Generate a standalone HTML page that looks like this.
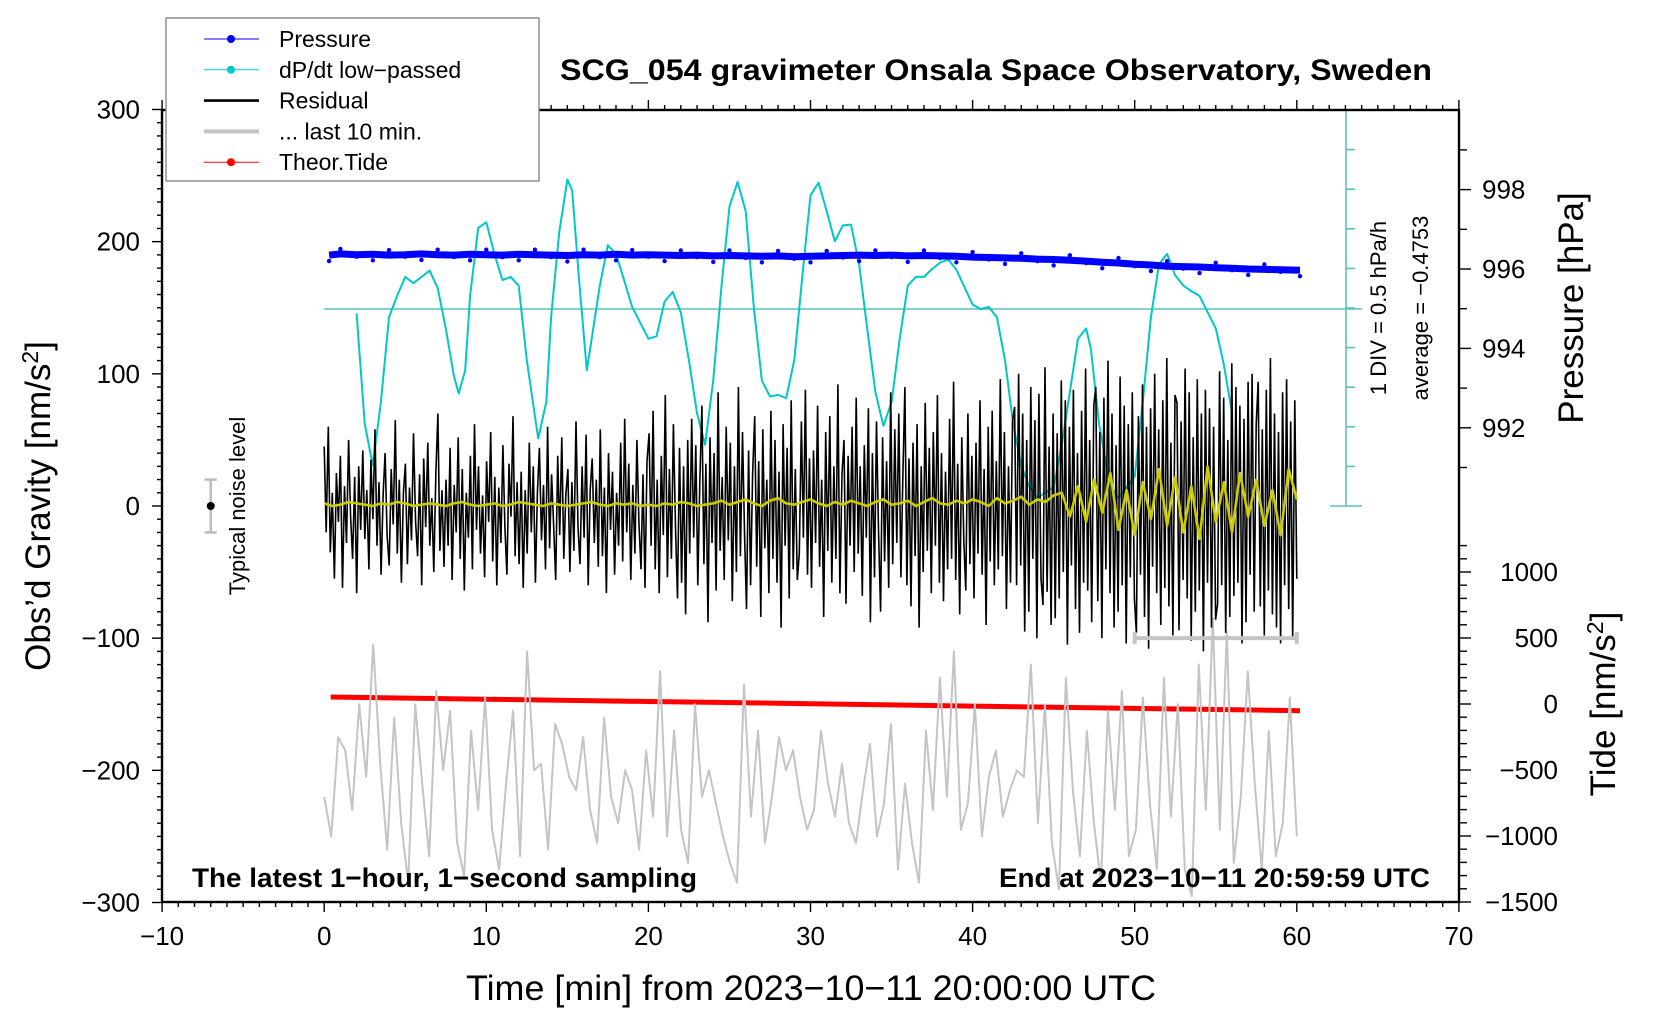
<!DOCTYPE html>
<html><head><meta charset="utf-8"><style>
html,body{margin:0;padding:0;background:#fff;}
svg{display:block;font-family:"Liberation Sans",sans-serif;}
</style></head><body>
<svg id="chart" width="1660" height="1020" viewBox="0 0 1660 1020" xmlns="http://www.w3.org/2000/svg">
<rect x="0" y="0" width="1660" height="1020" fill="#fff"/>
<g id="marks"></g>
<g id="axes"></g>
</svg>
<script>
// ---- data ----
const xTickLabels = [-10,0,10,20,30,40,50,60,70];
const yTickLabels = [300,200,100,0,-100,-200,-300];
const pTickLabels = [998,996,994,992];
const tideTickLabels = [1000,500,0,-500,-1000,-1500];

const pressureT = [0.3,1,2,3,4,5,6,7,8,9,10,11,12,13,14,15,16,17,18,19,20,21,22,23,24,25,26,27,28,29,30,31,32,33,34,35,36,37,38,39,40,41,42,43,44,45,46,47,48,49,50,51,52,53,54,55,56,57,58,59,60.2];
const pressureV = [996.35,996.38,996.36,996.37,996.35,996.36,996.38,996.36,996.35,996.37,996.36,996.35,996.37,996.36,996.35,996.34,996.36,996.35,996.37,996.35,996.36,996.35,996.34,996.35,996.33,996.34,996.33,996.32,996.33,996.31,996.32,996.33,996.34,996.35,996.34,996.35,996.33,996.34,996.33,996.32,996.30,996.29,996.28,996.27,996.25,996.24,996.22,996.20,996.17,996.15,996.12,996.10,996.07,996.06,996.05,996.03,996.02,996.00,995.99,995.98,995.97];

const dpdtT = [2,2.5,3,3.5,4,4.5,5,5.5,6,6.5,7,7.5,8,8.3,8.7,9,9.5,10,10.5,11,11.5,12,12.5,13.2,13.7,14,14.5,15,15.3,15.7,16.2,16.5,17,17.5,18,18.5,19,20,20.5,21,21.5,22,22.5,23,23.5,24,24.5,25,25.5,26,26.5,27,27.5,28,28.5,29,29.5,30,30.5,31,31.5,32,32.5,33,33.5,34,34.5,35,35.5,36,36.5,37,37.5,38,38.5,39,40,40.5,41,41.5,42,42.5,43,43.5,44,45,45.5,46,46.5,47,47.3,47.8,48.5,49,50,50.5,51,51.5,52,52.5,53,53.5,54,55,55.5,56];
const dpdtV = [-0.53,-1.92,-2.45,-1.65,-0.58,-0.31,-0.07,-0.15,-0.07,0.01,-0.21,-0.72,-1.32,-1.54,-1.25,-0.31,0.55,0.62,0.22,-0.11,-0.07,-0.18,-1.12,-2.11,-1.65,-0.58,0.49,1.16,1.02,-0.05,-1.25,-0.85,-0.18,0.33,0.22,-0.11,-0.45,-0.85,-0.82,-0.38,-0.26,-0.52,-1.12,-1.79,-2.19,-1.38,-0.21,0.82,1.13,0.76,-0.45,-1.38,-1.58,-1.56,-1.60,-1.12,-0.05,0.96,1.12,0.76,0.38,0.58,0.59,0.09,-0.72,-1.52,-1.95,-1.65,-0.85,-0.18,-0.07,-0.07,0.03,0.11,0.15,0.02,-0.42,-0.475,-0.45,-0.58,-1.12,-1.92,-2.45,-2.72,-2.86,-2.72,-2.19,-1.52,-0.85,-0.72,-0.98,-1.92,-2.72,-2.86,-2.59,-1.65,-0.58,0.09,0.22,-0.05,-0.18,-0.25,-0.31,-0.72,-1.18,-1.79];

const resid = [
45,-20,60,-35,10,-55,25,-12,38,-62,15,-28,50,-8,-40,22,-66,30,-18,42,
-25,12,-48,35,-10,58,-30,18,-52,8,40,-22,-45,28,-14,65,-36,20,-58,10,
32,-44,14,-26,55,-12,-38,24,-60,36,-16,48,-30,6,-50,26,70,-34,12,-46,
20,-30,44,-56,16,-20,52,-40,28,-64,10,-24,38,-48,62,-18,30,-36,8,-54,
34,-12,56,-42,22,-60,14,-28,46,-16,-52,32,-8,68,-38,18,-44,26,-62,12,
-36,48,-20,30,-58,10,44,-26,16,-48,60,-32,24,-14,-56,38,-22,52,-40,8,
28,-50,18,-34,64,-16,-44,30,-24,54,-60,12,36,-28,20,-46,58,-38,14,-66,
40,-18,26,-52,10,-30,48,-42,66,-20,32,-56,16,-36,50,-12,-48,24,-62,34,
55,-30,72,-48,20,-66,38,-22,84,-54,28,-40,62,-16,-70,44,-58,30,-82,50,
-36,66,-24,46,-60,18,76,-44,32,-88,52,-28,40,-64,86,-34,22,-56,60,-26,
48,-72,30,-50,90,-38,56,-20,-78,42,-60,24,68,-46,34,-84,58,-32,20,-66,
72,-40,50,-58,26,-92,62,-30,44,-70,80,-48,28,-56,-36,64,-24,88,-52,36,
-62,42,-28,76,-46,20,-84,56,-34,68,-58,30,-40,92,-66,24,50,-74,38,-30,
60,-50,82,-36,30,-68,46,-24,74,-88,40,-54,64,-18,-80,52,-42,34,-62,86,
-44,58,-28,70,-54,24,90,-60,36,-76,48,-38,62,-92,30,-50,78,-34,44,-66,
56,-30,84,-58,40,-72,26,-48,66,-40,94,-56,32,-82,52,-26,-64,70,-44,38,
-70,48,-36,80,-52,28,-90,60,-42,72,-60,34,-48,96,-38,56,-78,30,-58,64,
75,-60,100,-45,70,-95,50,-80,90,-40,65,-100,85,-55,-75,105,-65,45,-90,70,
-85,55,-70,95,-50,80,-105,60,-45,88,-78,40,-96,72,-58,104,-64,50,-88,76,
90,-72,56,-100,82,-48,110,-66,70,-92,46,-80,98,-60,76,-104,62,-54,86,-70,
-96,68,-52,92,-84,60,-108,74,-46,100,-66,58,-90,80,-62,112,-76,48,-98,84,
78,-94,64,-56,104,-70,86,-102,52,-80,96,-64,70,-110,88,-58,74,-92,60,-86,
-74,102,-60,82,-96,50,-84,108,-68,90,-58,76,-104,66,-88,94,-52,100,-80,62,
94,-76,58,-98,88,-64,112,-82,70,-92,56,-104,86,-60,96,-78,64,-100,80,-55];

const yellowV = [
2,0,1,3,2,1,0,2,1,3,2,0,1,2,1,0,2,3,1,0,
1,2,0,1,3,2,1,0,2,1,0,1,2,3,1,0,2,1,2,0,
1,0,2,1,3,2,0,1,2,4,1,3,5,2,0,4,6,2,1,3,
5,2,0,3,1,4,2,0,3,5,1,2,4,0,3,6,2,1,4,2,
5,3,0,6,2,4,7,1,5,3,8,
10,-8,15,-12,20,-5,25,-18,12,-22,18,-10,28,-15,22,-20,15,-25,30,-12,18,-20,25,-8,20,-15,12,-22,28,5];

const grayV = [
-30,-60,15,5,-40,40,-15,85,-5,-70,30,-50,-95,40,-20,-75,50,-10,35,-65,
-90,20,-40,45,-55,-85,-20,35,-75,80,-10,-5,-70,25,10,-15,-25,15,-40,-65,
30,-30,-50,-10,-25,-70,5,-45,65,-60,20,-55,-80,40,-30,-10,-35,-60,-80,-95,
55,-45,20,-65,-30,15,-10,5,-30,-55,-40,20,-20,-45,-5,-50,-65,-25,10,-60,
-35,25,-85,-20,-65,-95,20,-40,60,-30,80,-55,-35,40,-60,-15,5,-45,-25,-10,
-15,70,-50,40,-65,-100,60,-25,-75,20,-50,-95,35,-40,50,-75,-55,45,-35,-85,
60,-45,40,-85,-105,70,-40,105,-55,95,-80,-30,65,-20,-85,20,-75,-50,45,-60];
const grayOffset = -190;

const tideT = [0.4,10,20,30,40,50,60.2];
const tideV = [53,36,19,2,-16,-33,-51];

const noiseX = -7, noiseMid = 0, noiseHalf = 20;
const dpdtAvg = -0.4753, dpdtDiv = 0.5;

// ---- axis functions ----
const X0=162.1, PXMIN=16.21;
const xPx = t => X0 + (t+10)*PXMIN;
const yL = v => 506 - v*1.3217;
const yP = p => 269 - (p-996)*39.7;
const yT = v => 704 - v*0.132;
const yC = v => 309 - (v-dpdtAvg)/dpdtDiv*39.6;

const NS='http://www.w3.org/2000/svg';
const marks=document.getElementById('marks');
const axes=document.getElementById('axes');
function mk(tag,attrs,parent){const e=document.createElementNS(NS,tag);for(const k in attrs)e.setAttribute(k,attrs[k]);(parent||marks).appendChild(e);return e;}
function pts(xs,ys){return xs.map((x,i)=>x.toFixed(1)+','+ys[i].toFixed(1)).join(' ');}

const defs=mk('defs',{});
const cp=mk('clipPath',{id:'plotclip'},defs);
mk('rect',{x:162,y:110,width:1297,height:830},cp);

let e;
e=mk('line',{x1:xPx(0),y1:yC(dpdtAvg),x2:1362,y2:yC(dpdtAvg),stroke:'#5fbfbf','stroke-width':1.6});


e=mk('g',{stroke:'#5fbfbf','stroke-width':1.6});


mk('line',{x1:1346,y1:110,x2:1346,y2:506},e);
mk('line',{x1:1330,y1:110,x2:1362,y2:110},e);
mk('line',{x1:1330,y1:506,x2:1362,y2:506},e);
for(let k=1;k<10;k++){mk('line',{x1:1346,y1:110+k*39.6,x2:1355,y2:110+k*39.6},e);}

e=mk('polyline',{points:pts(tideT.map(xPx),tideV.map(yT)),fill:'none',stroke:'#ff0000','stroke-width':5});



const grayX=grayV.map((v,i)=>xPx(i*60/(grayV.length-1)));
e=mk('polyline',{points:pts(grayX,grayV.map(v=>yL(v+grayOffset))),fill:'none',stroke:'#c4c4c4','stroke-width':2,'stroke-linejoin':'round','clip-path':'url(#plotclip)'});



e=mk('polyline',{points:pts(dpdtT.map(xPx),dpdtV.map(yC)),fill:'none',stroke:'#00c8c8','stroke-width':2,'stroke-linejoin':'round'});



const residX=resid.map((v,i)=>xPx(i*60/(resid.length-1)));
e=mk('polyline',{points:pts(residX,resid.map(yL)),fill:'none',stroke:'#000','stroke-width':1.6});



const yelX=yellowV.map((v,i)=>xPx(i*60/(yellowV.length-1)));
e=mk('polyline',{points:pts(yelX,yellowV.map(yL)),fill:'none',stroke:'#cccc00','stroke-width':2.6,'stroke-linejoin':'round'});



e=mk('polyline',{points:pts(pressureT.map(xPx),pressureV.map(yP)),fill:'none',stroke:'#0000ff','stroke-width':7});


pressureT.forEach((t,i)=>{const c=mk('circle',{cx:xPx(t),cy:yP(pressureV[i])+(i%3===0?6:(i%3===1?-5:2)),r:2.2,fill:'#0000ff'});

});

e=mk('g',{stroke:'#c4c4c4','stroke-width':4});


mk('line',{x1:xPx(50),y1:yL(-100),x2:xPx(60),y2:yL(-100)},e);
mk('line',{x1:xPx(50),y1:yL(-100)-6,x2:xPx(50),y2:yL(-100)+6},e);
mk('line',{x1:xPx(60),y1:yL(-100)-6,x2:xPx(60),y2:yL(-100)+6},e);

e=mk('g',{});


mk('line',{x1:xPx(noiseX),y1:yL(noiseMid+noiseHalf),x2:xPx(noiseX),y2:yL(noiseMid-noiseHalf),stroke:'#bbb','stroke-width':2.5},e);
mk('line',{x1:xPx(noiseX)-6,y1:yL(noiseMid+noiseHalf),x2:xPx(noiseX)+6,y2:yL(noiseMid+noiseHalf),stroke:'#bbb','stroke-width':2.5},e);
mk('line',{x1:xPx(noiseX)-6,y1:yL(noiseMid-noiseHalf),x2:xPx(noiseX)+6,y2:yL(noiseMid-noiseHalf),stroke:'#bbb','stroke-width':2.5},e);
mk('circle',{cx:xPx(noiseX),cy:yL(noiseMid),r:4,fill:'#000'},e);

// ---- axes ----
function T(x,y,s,attrs,name){const t=mk('text',Object.assign({x:x,y:y},attrs),axes);t.textContent=s;return t;}
const fmt=v=>String(v).replace('-','\u2212');
e=mk('rect',{x:162,y:110,width:1297,height:792,fill:'none',stroke:'#000','stroke-width':2.4},axes);


const tk=mk('g',{stroke:'#000','stroke-width':1.4},axes);


for(let m=-10;m<=70;m++){const x=xPx(m),L=(m%10===0)?10:5;
 mk('line',{x1:x,y1:902,x2:x,y2:902+L},tk);mk('line',{x1:x,y1:110,x2:x,y2:110-L},tk);}
for(let v=-300;v<=300;v+=10){const L=(v%100===0)?10:5;mk('line',{x1:162,y1:yL(v),x2:162-L,y2:yL(v)},tk);}
for(let p=991;p<=999;p++){const L=(p%2===0)?12:8;mk('line',{x1:1459,y1:yP(p),x2:1459+L,y2:yP(p)},tk);}
for(let v=-1500;v<=1200;v+=100){const L=(v%500===0)?12:8;mk('line',{x1:1459,y1:yT(v),x2:1459+L,y2:yT(v)},tk);}
xTickLabels.forEach(v=>T(xPx(v),945,fmt(v),{'font-size':26,'text-anchor':'middle'},'x-tick-label'));
yTickLabels.forEach(v=>T(140,yL(v)+9,fmt(v),{'font-size':26,'text-anchor':'end'},'y-tick-label'));
pTickLabels.forEach(v=>T(1482,yP(v)+9,fmt(v),{'font-size':26},'pressure-tick-label'));
tideTickLabels.forEach(v=>T(1558,yT(v)+9,fmt(v),{'font-size':26,'text-anchor':'end'},'tide-tick-label'));
T(811,1000,'Time [min] from 2023\u221210\u221211 20:00:00 UTC',{'font-size':35,'text-anchor':'middle',textLength:690,lengthAdjust:'spacingAndGlyphs'},'x-axis-title');
let yt=T(0,0,'',{'font-size':35,'text-anchor':'middle',transform:'translate(50,506) rotate(-90)'},'y-axis-title');
yt.innerHTML='Obs\u2019d Gravity [nm/s<tspan dy="-12" font-size="23">2</tspan><tspan dy="12">]</tspan>';
T(0,0,'Pressure [hPa]',{'font-size':35,'text-anchor':'middle',transform:'translate(1583,308) rotate(-90)'},'pressure-axis-title');
let tt=T(0,0,'',{'font-size':35,'text-anchor':'middle',transform:'translate(1615,704) rotate(-90)'},'tide-axis-title');
tt.innerHTML='Tide [nm/s<tspan dy="-12" font-size="23">2</tspan><tspan dy="12">]</tspan>';
T(0,0,'1 DIV = 0.5 hPa/h',{'font-size':22,'text-anchor':'middle',transform:'translate(1386,308) rotate(-90)'},'dpdt-scale-label');
T(0,0,'average = \u22120.4753',{'font-size':22,'text-anchor':'middle',transform:'translate(1428,308) rotate(-90)'},'dpdt-average-label');
T(0,0,'Typical noise level',{'font-size':22,'text-anchor':'middle',transform:'translate(245,506) rotate(-90)'},'noise-level-label');
T(996,80,'SCG_054 gravimeter Onsala Space Observatory, Sweden',{'font-size':30,'font-weight':'bold','text-anchor':'middle',textLength:872,lengthAdjust:'spacingAndGlyphs'},'chart-title');
T(192,887,'The latest 1\u2212hour, 1\u2212second sampling',{'font-size':27,'font-weight':'bold',textLength:505,lengthAdjust:'spacingAndGlyphs'},'sampling-note');
T(999,887,'End at 2023\u221210\u221211 20:59:59 UTC',{'font-size':27,'font-weight':'bold',textLength:431,lengthAdjust:'spacingAndGlyphs'},'end-time-note');

// legend
const lg=mk('g',{},axes);


mk('rect',{x:166,y:18,width:373,height:163,fill:'#fff',stroke:'#888','stroke-width':1.4},lg);
const legItems=[['Pressure','#0000ff',1,true],['dP/dt low\u2212passed','#00c8c8',1,true],['Residual','#000',2.6,false],['... last 10 min.','#c4c4c4',4,false],['Theor.Tide','#ff0000',1,true]];
legItems.forEach((it,i)=>{const y=39+i*30.8;const g=mk('g',{},lg);
 
 
 mk('line',{x1:204,y1:y,x2:259,y2:y,stroke:it[1],'stroke-width':it[2]},g);
 if(it[3])mk('circle',{cx:231,cy:y,r:4,fill:it[1]},g);
 const t=mk('text',{x:279,y:y+8,'font-size':23},g);t.textContent=it[0];});
</script>
</body></html>
